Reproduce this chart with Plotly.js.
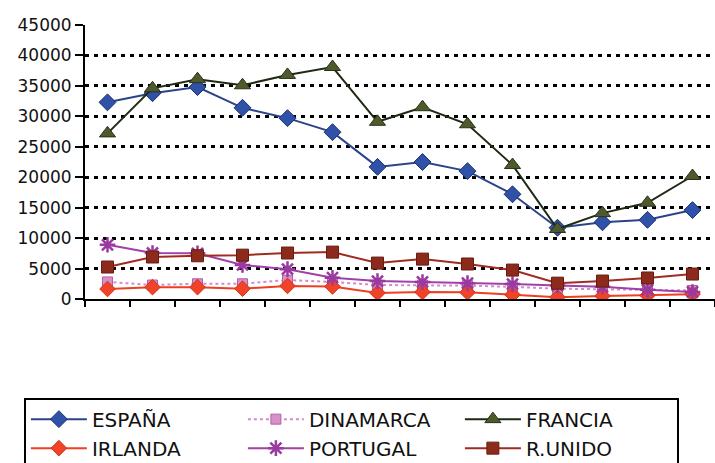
<!DOCTYPE html>
<html><head><meta charset="utf-8">
<script src="https://cdn.plot.ly/plotly-3.0.1.min.js"></script>
<style>html,body{margin:0;padding:0;background:#fff;}#chart{width:715px;height:463px;}</style>
</head><body><div id="chart"></div>
<script>
const categories = ["1","2","3","4","5","6","7","8","9","10","11","12","13","14"];
const espana    = [32300,33800,34800,31400,29700,27400,21700,22500,21000,17200,11700,12600,13000,14600];
const dinamarca = [2800,2300,2500,2500,3100,2800,2300,2300,2200,2000,1700,1600,1500,1400];
const francia   = [27200,34600,36100,35100,36800,38100,29100,31500,28700,22000,11500,14100,15800,20200];
const irlanda   = [1650,1950,1950,1700,2150,2050,1000,1150,1100,700,300,500,600,800];
const portugal  = [8900,7550,7500,5600,4900,3500,2950,2800,2600,2450,2200,2000,1500,1150];
const runido    = [5250,6900,7100,7200,7550,7700,5900,6550,5750,4750,2600,2950,3450,4100];

const traces = [
  {name:"ESPAÑA", y:espana, line:{color:"#2a4488",width:2}, marker:{symbol:"diamond",size:13,color:"#2f52a8",line:{color:"#1c3070",width:1}}},
  {name:"DINAMARCA", y:dinamarca, line:{color:"#d48ac8",width:2,dash:"dot"}, marker:{symbol:"square",size:10,color:"#d890c8",line:{color:"#b060a8",width:1}}},
  {name:"FRANCIA", y:francia, line:{color:"#1e2a14",width:2}, marker:{symbol:"triangle-up",size:14,color:"#4e5a2c",line:{color:"#2a3018",width:1}}},
  {name:"IRLANDA", y:irlanda, line:{color:"#ee4020",width:2}, marker:{symbol:"diamond",size:12,color:"#f04428",line:{color:"#d83018",width:1}}},
  {name:"PORTUGAL", y:portugal, line:{color:"#a040a8",width:2}, marker:{symbol:"asterisk-open",size:13,color:"#9a3aa0",line:{color:"#9a3aa0",width:2.5}}},
  {name:"R.UNIDO", y:runido, line:{color:"#a02c20",width:2}, marker:{symbol:"square",size:12,color:"#8c2a1c",line:{color:"#6a1c12",width:1}}}
].map(t => Object.assign({type:"scatter",mode:"lines+markers",x:categories}, t));

const layout = {
  width:715, height:463,
  margin:{l:85,r:0,t:25,b:164, autoexpand:false},
  paper_bgcolor:"#fff", plot_bgcolor:"#fff",
  showlegend:true,
  font:{family:"DejaVu Sans, sans-serif", color:"#111"},
  xaxis:{type:"category", showticklabels:false, showgrid:false, zeroline:false,
    showline:true, linecolor:"#000", linewidth:2, ticks:"outside", tickson:"boundaries",
    ticklen:6, tickwidth:2, tickcolor:"#000", range:[-0.5,13.5], fixedrange:true},
  yaxis:{range:[0,45000], tickvals:[0,5000,10000,15000,20000,25000,30000,35000,40000,45000],
    ticktext:["0","5000","10000","15000","20000","25000","30000","35000","40000","45000"],
    showgrid:true, gridcolor:"#000", gridwidth:3, griddash:"4px,5px", zeroline:false,
    showline:true, linecolor:"#000", linewidth:2, ticks:"outside", ticklen:8, tickwidth:2, tickcolor:"#000",
    tickfont:{family:"DejaVu Sans, sans-serif", size:17, color:"#111"}, fixedrange:true},
  legend:{orientation:"h", x:-0.097, xanchor:"left", y:-0.36, yanchor:"top",
    entrywidth:146, entrywidthmode:"pixels", bordercolor:"#000", borderwidth:2,
    font:{family:"DejaVu Sans, sans-serif", size:20, color:"#111"}, tracegroupgap:0, itemwidth:56}
};
Plotly.newPlot("chart", traces, layout, {staticPlot:true});
</script></body></html>
